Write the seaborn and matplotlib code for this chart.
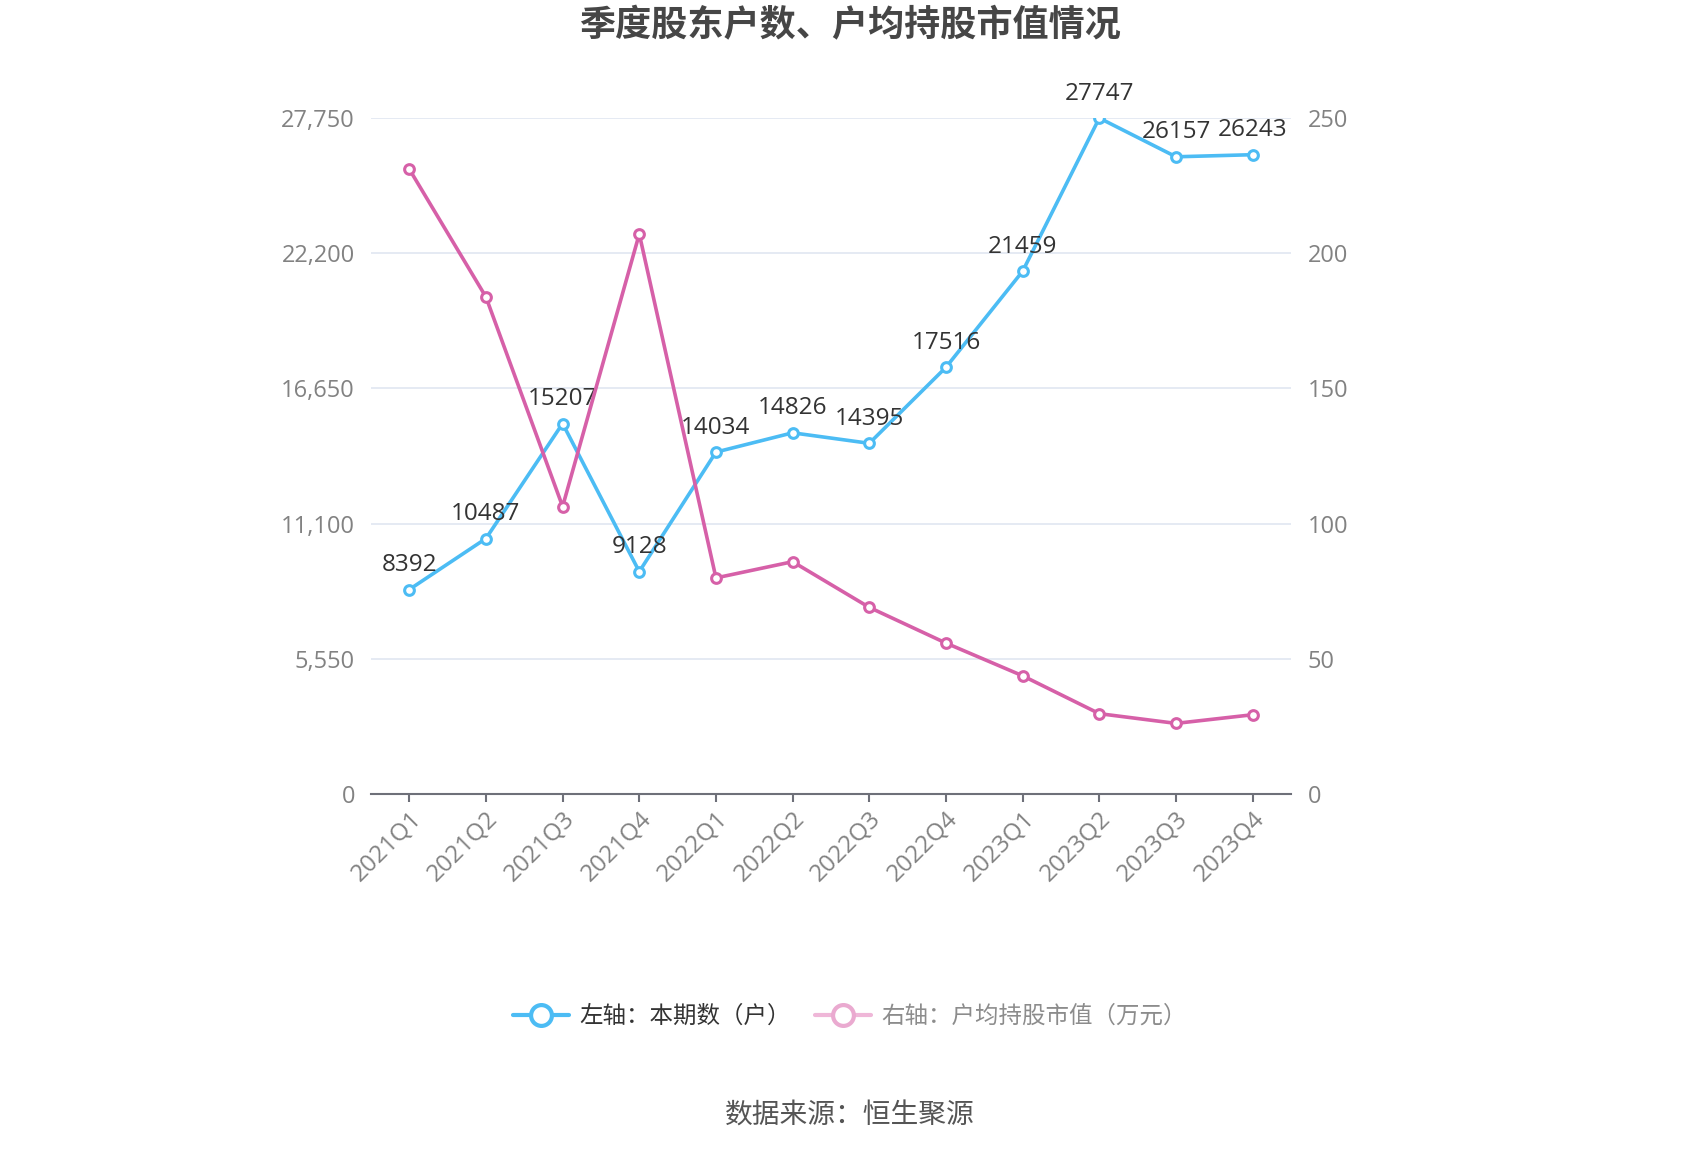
import matplotlib
matplotlib.use("Agg")
import matplotlib.pyplot as plt
from matplotlib.lines import Line2D
from matplotlib.ticker import FixedLocator, FuncFormatter
import seaborn as sns
import pandas as pd

quarters = ["2021Q1", "2021Q2", "2021Q3", "2021Q4", "2022Q1", "2022Q2",
            "2022Q3", "2022Q4", "2023Q1", "2023Q2", "2023Q3", "2023Q4"]
holders = [8392, 10487, 15207, 9128, 14034, 14826, 14395, 17516, 21459, 27747, 26157, 26243]
avg_value = [231.1, 183.8, 106.3, 207.1, 79.9, 85.9, 69.0, 55.8, 43.7, 29.7, 26.1, 29.3]
left_ticks = [0, 5550, 11100, 16650, 22200, 27750]
right_ticks = [0, 50, 100, 150, 200, 250]

title = "季度股东户数、户均持股市值情况"
legend_labels = ["左轴：本期数（户）", "右轴：户均持股市值（万元）"]
source = "数据来源：恒生聚源"

BLUE = "#4cbcf4"
PINK = "#d660a8"
TICK_C = "#828282"
AXIS_C = "#6e7079"
GRID_C = "#e0e6f1"

sns.set_theme(style="white")
plt.rcParams["font.family"] = ["Open Sans", "Noto Sans CJK SC", "DejaVu Sans"]
CJK = ["Noto Sans CJK SC", "DejaVu Sans"]

df = pd.DataFrame({"pos": list(range(len(quarters))), "quarter": quarters,
                   "holders": holders, "avg": avg_value})

fig = plt.figure(figsize=(17, 11.5), dpi=100)
ax = fig.add_axes([0.2182, 0.3096, 0.7594 - 0.2182, 0.8974 - 0.3096])
ax2 = ax.twinx()

line_kw = dict(linewidth=2.6, marker="o", markersize=7, markeredgewidth=2.2,
               markerfacecolor="white")
sns.lineplot(data=df, x="pos", y="holders", ax=ax, color=BLUE,
             markeredgecolor=BLUE, **line_kw)
sns.lineplot(data=df, x="pos", y="avg", ax=ax2, color=PINK,
             markeredgecolor=PINK, **line_kw)

n = len(quarters)
for a in (ax, ax2):
    a.set_xlim(-0.5, n - 0.5)
    a.set_xlabel("")
    a.set_ylabel("")
    for s in a.spines.values():
        s.set_visible(False)

ax.set_ylim(0, left_ticks[-1])
ax2.set_ylim(0, right_ticks[-1])
ax.yaxis.set_major_locator(FixedLocator(left_ticks))
ax.yaxis.set_major_formatter(FuncFormatter(lambda v, p: f"{int(v):,}"))
ax2.yaxis.set_major_locator(FixedLocator(right_ticks))
ax2.yaxis.set_major_formatter(FuncFormatter(lambda v, p: f"{int(v)}"))

for t in left_ticks[1:]:
    ax.axhline(t, color=GRID_C, linewidth=1.2, zorder=0)
ax.spines["bottom"].set_visible(True)
ax.spines["bottom"].set_color(AXIS_C)
ax.spines["bottom"].set_linewidth(1.5)

ax.set_xticks(range(n))
ax.set_xticklabels(quarters, rotation=45, ha="right", rotation_mode="anchor",
                   color=TICK_C, fontsize=17.5)
ax.tick_params(axis="x", length=6, width=1.5, color=AXIS_C, pad=3, bottom=True)
ax.tick_params(axis="y", length=0, pad=11.5, labelsize=17, labelcolor=TICK_C)
ax2.tick_params(axis="y", length=0, pad=12, labelsize=17, labelcolor=TICK_C)

for i, v in enumerate(holders):
    ax.annotate(str(v), (i, v), xytext=(0, 9), textcoords="offset points",
                ha="center", va="bottom", fontsize=17.5, color="#333333")

fig.text(0.5, 0.978, title, ha="center", va="center", fontsize=26,
         fontweight="bold", color="#464646", family=CJK)

handles = [
    Line2D([0], [0], color=BLUE, linewidth=3, marker="o", markersize=15,
           markerfacecolor="white", markeredgecolor=BLUE, markeredgewidth=3),
    Line2D([0], [0], color="#efb7d8", linewidth=3, marker="o", markersize=15,
           markerfacecolor="white", markeredgecolor="#eaaad0", markeredgewidth=3),
]
leg = fig.legend(handles, legend_labels, loc="center", bbox_to_anchor=(0.5, 0.116),
                 ncol=2, frameon=False, handlelength=2.4,
                 handletextpad=0.45, columnspacing=1.0, prop={"family": CJK, "size": 16.9})
leg.get_texts()[0].set_color("#333333")
leg.get_texts()[1].set_color("#8c8c8c")

fig.text(0.5, 0.030, source, ha="center", va="center", fontsize=20,
         color="#555555", family=CJK)

fig.savefig("out.png", dpi=100)
